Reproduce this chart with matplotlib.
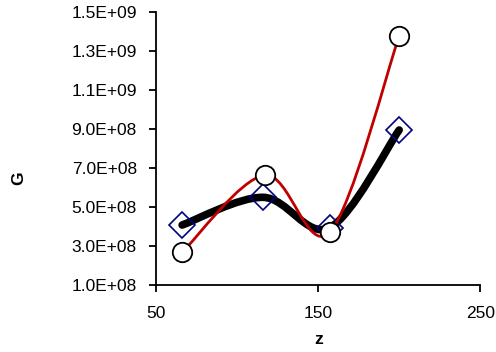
import matplotlib
matplotlib.use("Agg")
import matplotlib.pyplot as plt
from matplotlib.path import Path
from matplotlib.patches import PathPatch
import numpy as np

plt.rcParams['font.family'] = ['Liberation Sans', 'DejaVu Sans']

# Data
z_diamond = [66, 116, 157, 200]
G_diamond = [4.08e8, 5.5e8, 3.94e8, 8.95e8]
z_circle = [66, 117, 157, 200]
G_circle = [2.68e8, 6.64e8, 3.7e8, 1.377e9]
y_ticks = [1.0e8, 3.0e8, 5.0e8, 7.0e8, 9.0e8, 1.1e9, 1.3e9, 1.5e9]
y_tick_labels = ["1.0E+08", "3.0E+08", "5.0E+08", "7.0E+08", "9.0E+08", "1.1E+09", "1.3E+09", "1.5E+09"]
x_ticks = [50, 150, 250]


def smooth_path(xs, ys):
    pts = np.column_stack([xs, ys]).astype(float)
    n = len(pts)
    verts = [pts[0]]
    codes = [Path.MOVETO]
    for i in range(n - 1):
        p0 = pts[i - 1] if i > 0 else pts[i]
        p1 = pts[i]
        p2 = pts[i + 1]
        p3 = pts[i + 2] if i + 2 < n else pts[i + 1]
        c1 = p1 + (p2 - p0) / 6.0
        c2 = p2 - (p3 - p1) / 6.0
        verts += [c1, c2, p2]
        codes += [Path.CURVE4] * 3
    return Path(verts, codes)


fig = plt.figure(figsize=(4.96, 3.52), dpi=100)
ax = fig.add_axes([0.315, 0.19, 0.653, 0.776])

ax.add_patch(PathPatch(smooth_path(z_diamond, G_diamond), fill=False,
                       edgecolor='black', lw=5.5, capstyle='round', zorder=2))
ax.plot(z_diamond, G_diamond, linestyle='none', marker='D', markersize=13,
        markerfacecolor='none', markeredgecolor='#000080', markeredgewidth=1.2, zorder=3)

ax.add_patch(PathPatch(smooth_path(z_circle, G_circle), fill=False,
                       edgecolor='#C00000', lw=2, zorder=4))
ax.plot(z_circle, G_circle, linestyle='none', marker='o', markersize=14,
        markerfacecolor='white', markeredgecolor='black', markeredgewidth=1.3, zorder=5)

ax.set_xlim(50, 250)
ax.set_ylim(1.0e8, 1.5e9)
ax.set_xticks(x_ticks)
ax.set_xticklabels([str(v) for v in x_ticks])
ax.set_yticks(y_ticks)
ax.set_yticklabels(y_tick_labels)

for s in ['top', 'right']:
    ax.spines[s].set_visible(False)
for s in ['left', 'bottom']:
    ax.spines[s].set_linewidth(1.3)
ax.tick_params(axis='both', direction='out', length=5, width=1.3, labelsize=12.5)
ax.tick_params(axis='y', pad=9)
ax.tick_params(axis='x', pad=10)

ax.set_xlabel('z', fontsize=12.5, fontweight='bold', labelpad=8)
ax.set_ylabel('G', fontsize=12.5, fontweight='bold')
ax.yaxis.set_label_coords(-0.40, 0.39)

fig.savefig('out.png', dpi=100)
